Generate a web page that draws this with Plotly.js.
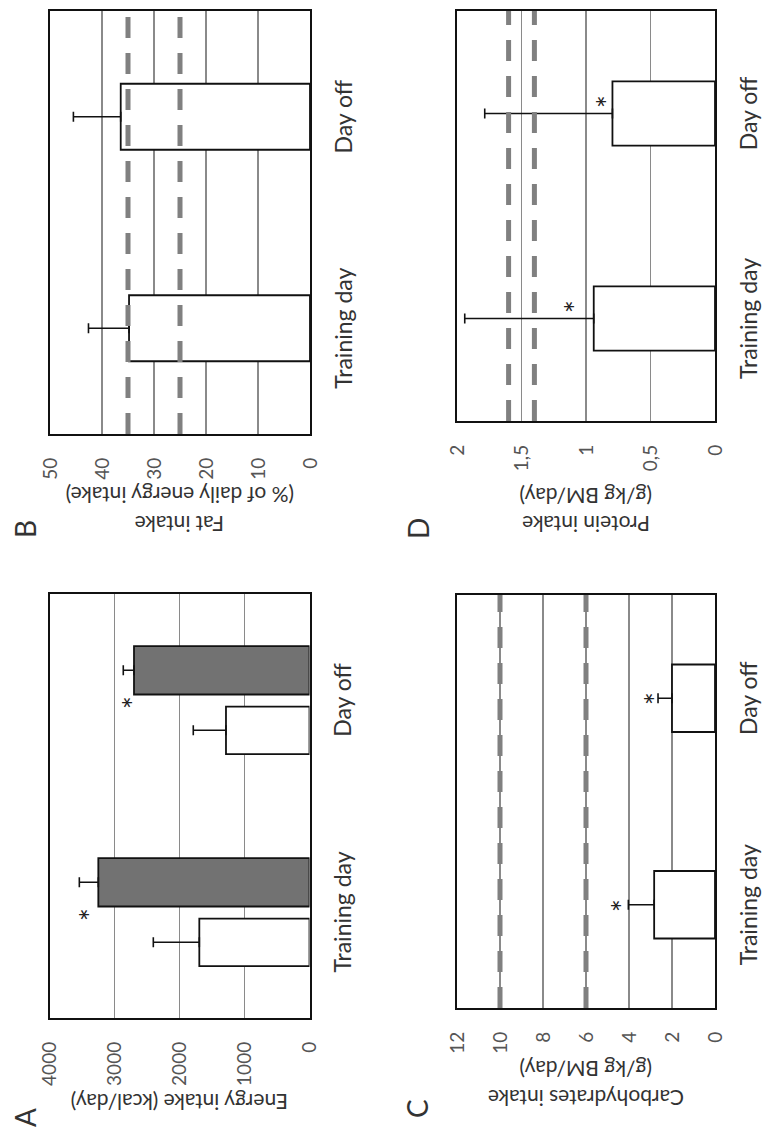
<!DOCTYPE html>
<html>
<head>
<meta charset="utf-8">
<script src="https://cdn.plot.ly/plotly-3.0.1.min.js"></script>
<style>
  html, body { margin:0; padding:0; background:#ffffff; width:762px; height:1133px; overflow:hidden; }
  #wrap { position:absolute; left:0; top:0; width:1133px; height:762px;
          transform-origin:0 0; transform:translateY(1133px) rotate(-90deg); }
  #chart { width:1133px; height:762px; }
</style>
</head>
<body>
<div id="wrap"><div id="chart"></div></div>
<script>
// ---- data ----
const categories = ['Training day', 'Day off'];

// A: energy intake (kcal/day)
const energyIntake = [1695, 1285];
const energyIntakeSD = [708, 503];
const energyRequirement = [3249, 2700];
const energyRequirementSD = [292, 165];
const energyStars = [3505, 2838];
const energyTicks = [0, 1000, 2000, 3000, 4000];

// B: fat intake (% of daily energy intake)
const fatIntake = [34.8, 36.4];
const fatIntakeSD = [7.8, 9.1];
const fatReference = [25, 35];
const fatTicks = [0, 10, 20, 30, 40, 50];

// C: carbohydrates intake (g/kg BM/day)
const choIntake = [2.83, 2.0];
const choIntakeSD = [1.2, 0.65];
const choReference = [6, 10];
const choStars = [4.72, 3.17];
const choTicks = [0, 2, 4, 6, 8, 10, 12];

// D: protein intake (g/kg BM/day)
const proteinIntake = [0.94, 0.795];
const proteinIntakeSD = [1.0, 0.99];
const proteinReference = [1.4, 1.6];
const proteinStars = [1.15, 0.90];
const proteinTicks = [0, 0.5, 1, 1.5, 2];
const proteinTickText = ['0', '0,5', '1', '1,5', '2'];

// ---- styling ----
const W = 1133, H = 762;
const FONT = "Lato, 'Open Sans', sans-serif";
const TEXT = '#333333';
const TICK = '#555555';
const GRID = '#8a8a8a';
const DASH = '#808080';
const GREYBAR = '#727272';

function px2x(p) { return p / W; }
function px2y(p) { return 1 - p / H; }

function errUp(sd) {
  return { type: 'data', symmetric: false, array: sd, arrayminus: sd.map(() => 0),
           color: '#111', thickness: 1.6, width: 5 };
}
const barLine = { color: '#111', width: 1.8 };

const traces = [
  // A
  { type: 'bar', x: categories, y: energyIntake, xaxis: 'x', yaxis: 'y',
    width: 0.224, offset: -0.255, marker: { color: '#ffffff', line: barLine },
    error_y: errUp(energyIntakeSD), hoverinfo: 'y', showlegend: false },
  { type: 'bar', x: categories, y: energyRequirement, xaxis: 'x', yaxis: 'y',
    width: 0.228, offset: 0.026, marker: { color: GREYBAR, line: barLine },
    error_y: errUp(energyRequirementSD), hoverinfo: 'y', showlegend: false },
  // B
  { type: 'bar', x: categories, y: fatIntake, xaxis: 'x2', yaxis: 'y2',
    width: 0.312, marker: { color: '#ffffff', line: barLine },
    error_y: errUp(fatIntakeSD), hoverinfo: 'y', showlegend: false },
  // C
  { type: 'bar', x: categories, y: choIntake, xaxis: 'x3', yaxis: 'y3',
    width: 0.327, marker: { color: '#ffffff', line: barLine },
    error_y: errUp(choIntakeSD), hoverinfo: 'y', showlegend: false },
  // D
  { type: 'bar', x: categories, y: proteinIntake, xaxis: 'x4', yaxis: 'y4',
    width: 0.314, marker: { color: '#ffffff', line: barLine },
    error_y: errUp(proteinIntakeSD), hoverinfo: 'y', showlegend: false }
];

function xax(d0, d1, anchor) {
  return { domain: [px2x(d0), px2x(d1)], anchor: anchor, type: 'category',
    categoryorder: 'array', categoryarray: categories,
    showline: true, mirror: true, linecolor: '#111', linewidth: 2,
    showgrid: false, ticks: '', ticklabelstandoff: 12,
    tickfont: { family: FONT, size: 23, color: TEXT }, fixedrange: true };
}
function yax(d0, d1, anchor, range, tickvals, ticktext) {
  const a = { domain: [px2y(d1), px2y(d0)], anchor: anchor, range: range,
    showline: true, mirror: true, linecolor: '#111', linewidth: 2,
    showgrid: true, gridcolor: GRID, gridwidth: 1.5, zeroline: false,
    ticks: '', ticklabelstandoff: 18, tickmode: 'array', tickvals: tickvals,
    tickfont: { family: FONT, size: 19, color: TICK }, fixedrange: true };
  if (ticktext) a.ticktext = ticktext;
  return a;
}

const layout = {
  width: W, height: H,
  margin: { l: 0, r: 0, t: 0, b: 0 },
  paper_bgcolor: '#ffffff', plot_bgcolor: '#ffffff',
  barmode: 'overlay', showlegend: false,
  font: { family: FONT, color: TEXT },
  xaxis:  xax(115, 539, 'y'),
  yaxis:  yax(49.5, 309.5, 'x', [0, 4000], energyTicks),
  xaxis2: xax(699, 1122, 'y2'),
  yaxis2: yax(50, 310, 'x2', [0, 50], fatTicks),
  xaxis3: xax(125, 538, 'y3'),
  yaxis3: yax(457, 715, 'x3', [0, 12], choTicks),
  xaxis4: xax(712, 1122, 'y4'),
  yaxis4: yax(457, 715, 'x4', [0, 2], proteinTicks, proteinTickText),
  shapes: [],
  annotations: []
};

function refLines(vals, xr, yr) {
  vals.forEach(v => layout.shapes.push({ type: 'line', xref: xr + ' domain', yref: yr,
    x0: 0, x1: 1, y0: v, y1: v, layer: 'above',
    line: { color: DASH, width: 5, dash: '21px,15px' } }));
}
refLines(fatReference, 'x2', 'y2');
refLines(choReference, 'x3', 'y3');
refLines(proteinReference, 'x4', 'y4');

function stars(vals, xr, yr, shift) {
  vals.forEach((v, i) => layout.annotations.push({ text: '*', xref: xr, yref: yr,
    x: i, y: v, xshift: shift[i], yshift: -8, showarrow: false,
    font: { family: FONT, size: 30, color: '#222' } }));
}
stars(energyStars, 'x', 'y', [-3, -2.5]);
stars(choStars, 'x3', 'y3', [-1, 0]);
stars(proteinStars, 'x4', 'y4', [11.5, 11.5]);

function ytitle(text, xp, yp) {
  layout.annotations.push({ text: text, xref: 'paper', yref: 'paper',
    x: px2x(xp), y: px2y(yp), xanchor: 'center', yanchor: 'middle', textangle: -90,
    showarrow: false, font: { family: FONT, size: 21, color: TEXT } });
}
ytitle('Energy intake (kcal/day)', 30, 180);
ytitle('Fat intake', 608, 180);
ytitle('(% of daily energy intake)', 637, 180);
ytitle('Carbohydrates intake', 34, 586);
ytitle('(g/kg BM/day)', 63, 586);
ytitle('Protein intake', 608, 586);
ytitle('(g/kg BM/day)', 636, 586);

function letter(t, xp, yp) {
  layout.annotations.push({ text: t, xref: 'paper', yref: 'paper',
    x: px2x(xp), y: px2y(yp), xanchor: 'center', yanchor: 'middle',
    showarrow: false, font: { family: FONT, size: 28, color: TEXT } });
}
letter('A', 15, 25);
letter('B', 604, 25);
letter('C', 24, 417);
letter('D', 604, 418);

Plotly.newPlot('chart', traces, layout, { staticPlot: true, displayModeBar: false });
</script>
</body>
</html>
